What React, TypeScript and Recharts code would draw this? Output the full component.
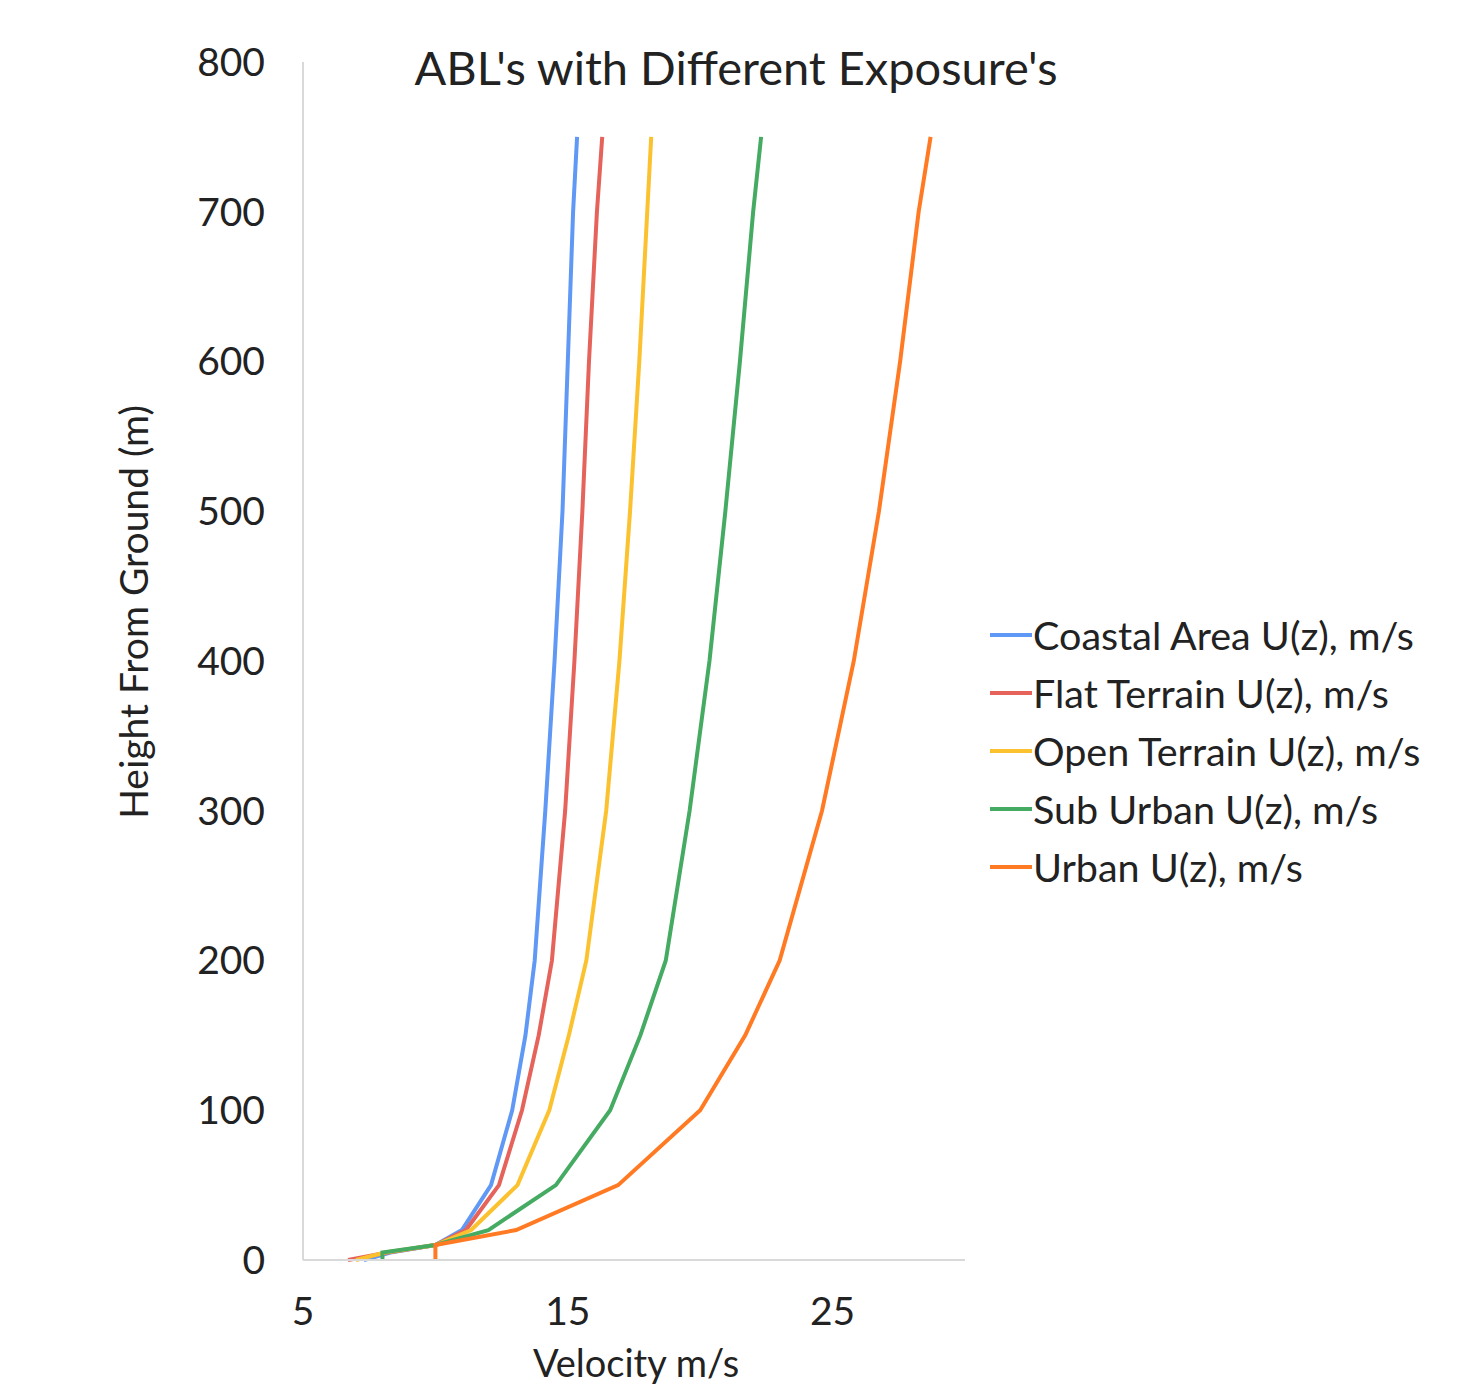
import React from "react";
import { LineChart, Line, XAxis, YAxis } from "recharts";

const heights = [0, 5, 10, 20, 50, 100, 150, 200, 300, 400, 500, 600, 700, 750];
const coastal = [7.3, 8.3, 10, 11.0, 12.1, 12.9, 13.4, 13.75, 14.15, 14.5, 14.8, 15.0, 15.2, 15.35];
const flat = [6.7, 8.2, 10, 11.15, 12.4, 13.27, 13.9, 14.4, 14.9, 15.25, 15.55, 15.8, 16.1, 16.3];
const open = [7.0, 8.1, 10, 11.35, 13.1, 14.3, 15.04, 15.7, 16.45, 16.95, 17.35, 17.7, 18.0, 18.15];
const suburban = [8.0, 8.0, 10, 12.0, 14.55, 16.6, 17.74, 18.7, 19.6, 20.35, 20.95, 21.5, 22.0, 22.3];
const urban = [10, 10, 10, 13.05, 16.9, 20.0, 21.7, 23.0, 24.6, 25.8, 26.75, 27.55, 28.25, 28.7];

const xTicks = [5, 15, 25];
const yTicks = [0, 100, 200, 300, 400, 500, 600, 700, 800];

const seriesNames = [
  "Coastal Area U(z), m/s",
  "Flat Terrain U(z), m/s",
  "Open Terrain U(z), m/s",
  "Sub Urban U(z), m/s",
  "Urban U(z), m/s",
];
const seriesKeys = ["coastal", "flat", "open", "suburban", "urban"];
const seriesColors = ["#5f98f5", "#e5635a", "#fbc12e", "#45ab62", "#ff7a22"];

const title = "ABL's with Different Exposure's";
const xTitle = "Velocity m/s";
const yTitle = "Height From Ground (m)";

const data = heights.map((h, i) => ({
  h,
  coastal: coastal[i],
  flat: flat[i],
  open: open[i],
  suburban: suburban[i],
  urban: urban[i],
}));

const FONT = "Lato, 'Open Sans', sans-serif";
const TEXT = "#222";

export default function App() {
  return (
    <div style={{ position: "relative", width: 1466, height: 1384, fontFamily: FONT, color: TEXT }}>
      <LineChart
        width={1466}
        height={1384}
        data={data}
        layout="vertical"
        margin={{ top: 54, right: 509, left: 0, bottom: 0 }}
      >
        <XAxis
          type="number"
          domain={[5, 30]}
          ticks={xTicks}
          allowDataOverflow
          height={132}
          tickSize={0}
          tickMargin={37}
          axisLine={{ stroke: "#d9d9d9", strokeWidth: 2 }}
          tickLine={false}
          tick={{ fill: TEXT, fontSize: 39, fontFamily: FONT }}
        />
        <YAxis
          type="number"
          dataKey="h"
          domain={[0, 800]}
          ticks={yTicks}
          reversed
          width={295}
          tickSize={0}
          tickMargin={38}
          axisLine={{ stroke: "#d9d9d9", strokeWidth: 2 }}
          tickLine={false}
          tick={{ fill: TEXT, fontSize: 39, fontFamily: FONT }}
        />
        {seriesKeys.map((k, i) => (
          <Line
            key={k}
            dataKey={k}
            name={seriesNames[i]}
            stroke={seriesColors[i]}
            strokeWidth={4}
            dot={false}
            type="linear"
            isAnimationActive={false}
          />
        ))}
      </LineChart>
      <div
        style={{
          position: "absolute",
          left: 728,
          top: 59,
          transform: "translate(-50%, -50%)",
          fontSize: 47,
          whiteSpace: "nowrap",
        }}
      >
        {title}
      </div>
      <div
        style={{
          position: "absolute",
          left: 628,
          top: 1354,
          transform: "translate(-50%, -50%)",
          fontSize: 38,
          whiteSpace: "nowrap",
        }}
      >
        {xTitle}
      </div>
      <div
        style={{
          position: "absolute",
          left: 125,
          top: 604,
          transform: "translate(-50%, -50%) rotate(-90deg)",
          fontSize: 39,
          whiteSpace: "nowrap",
        }}
      >
        {yTitle}
      </div>
      <div style={{ position: "absolute", left: 982, top: 598 }}>
        {seriesNames.map((n, i) => (
          <div key={n} style={{ display: "flex", alignItems: "center", height: 58 }}>
            <div style={{ width: 42, height: 4, background: seriesColors[i], marginRight: 1 }} />
            <span style={{ fontSize: 39.5, whiteSpace: "nowrap", lineHeight: "58px" }}>{n}</span>
          </div>
        ))}
      </div>
    </div>
  );
}
